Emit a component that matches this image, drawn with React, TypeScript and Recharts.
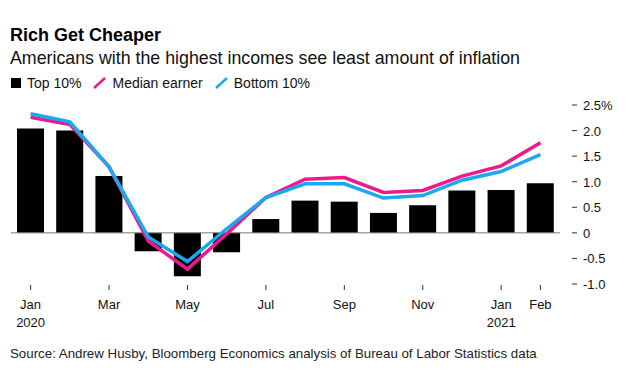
import { ComposedChart, Bar, Line, XAxis, YAxis, ReferenceLine } from 'recharts';

const months = [
  'Jan 2020', 'Feb 2020', 'Mar 2020', 'Apr 2020', 'May 2020', 'Jun 2020', 'Jul 2020',
  'Aug 2020', 'Sep 2020', 'Oct 2020', 'Nov 2020', 'Dec 2020', 'Jan 2021', 'Feb 2021',
];
const top10 = [2.04, 2.0, 1.11, -0.36, -0.85, -0.38, 0.27, 0.63, 0.61, 0.39, 0.54, 0.83, 0.84, 0.97];
const median = [2.26, 2.12, 1.29, -0.16, -0.71, -0.02, 0.69, 1.05, 1.08, 0.79, 0.83, 1.11, 1.31, 1.76];
const bottom10 = [2.33, 2.17, 1.29, -0.08, -0.56, 0.08, 0.69, 0.96, 0.96, 0.68, 0.73, 1.03, 1.2, 1.53];

const tickMonths = ['Jan', '', 'Mar', '', 'May', '', 'Jul', '', 'Sep', '', 'Nov', '', 'Jan', 'Feb'];
const tickYears = ['2020', '', '', '', '', '', '', '', '', '', '', '', '2021', ''];
const yTicks = [-1, -0.5, 0, 0.5, 1, 1.5, 2, 2.5];

const PINK = '#ec1a8a';
const BLUE = '#1aa9f0';
const FONT = '"Liberation Sans", Arial, Helvetica, sans-serif';

const data = months.map((m, i) => ({
  month: m,
  top: top10[i],
  median: median[i],
  bottom: bottom10[i],
}));

function MonthTick({ x, y, index }: any) {
  const label = tickMonths[index];
  if (!label) return <g />;
  return (
    <g>
      <line x1={x} x2={x} y1={y + 1} y2={y + 6} stroke="#333" strokeWidth={1} />
      <text x={x} y={y + 25} textAnchor="middle" fontSize={13} fill="#111" fontFamily={FONT}>
        {label}
      </text>
      {tickYears[index] && (
        <text x={x} y={y + 43} textAnchor="middle" fontSize={13} fill="#111" fontFamily={FONT}>
          {tickYears[index]}
        </text>
      )}
    </g>
  );
}

function ValueTick({ x, y, payload }: any) {
  const v = payload.value;
  let label = v === 0 ? '0' : v.toFixed(1);
  if (v === 2.5) label = '2.5%';
  return (
    <g>
      <line x1={x + 12} x2={x + 17} y1={y} y2={y} stroke="#333" strokeWidth={1} />
      <text x={x + 23} y={y + 5} fontSize={13} fill="#111" fontFamily={FONT}>
        {label}
      </text>
    </g>
  );
}

export default function App() {
  return (
    <div style={{ position: 'absolute', left: 0, top: 0, width: 637, height: 370, background: '#fff', fontFamily: FONT }}>
      <div style={{ position: 'absolute', left: 10, top: 25, fontSize: 18, fontWeight: 700, color: '#000' }}>
        Rich Get Cheaper
      </div>
      <div style={{ position: 'absolute', left: 10, top: 48, fontSize: 17.8, color: '#111' }}>
        Americans with the highest incomes see least amount of inflation
      </div>
      <div style={{ position: 'absolute', left: 11, top: 75, fontSize: 14, color: '#111', display: 'flex', alignItems: 'center' }}>
        <span style={{ display: 'inline-block', width: 10, height: 10, background: '#000', marginRight: 6 }} />
        <span style={{ marginRight: 12 }}>Top 10%</span>
        <svg width={13} height={12} style={{ marginRight: 6 }}>
          <line x1={1} y1={11} x2={12} y2={1} stroke={PINK} strokeWidth={2.5} />
        </svg>
        <span style={{ marginRight: 12 }}>Median earner</span>
        <svg width={13} height={12} style={{ marginRight: 6 }}>
          <line x1={1} y1={11} x2={12} y2={1} stroke={BLUE} strokeWidth={2.5} />
        </svg>
        <span>Bottom 10%</span>
      </div>
      <div style={{ position: 'absolute', top: 0, left: 0 }}>
        <ComposedChart width={637} height={370} data={data} margin={{ top: 105, right: 17, bottom: 36, left: 11 }}>
          <XAxis
            dataKey="month"
            axisLine={false}
            tickLine={false}
            tickSize={0}
            tickMargin={0}
            interval={0}
            height={50}
            tick={<MonthTick />}
          />
          <YAxis
            orientation="right"
            domain={[-1, 2.5]}
            ticks={yTicks}
            axisLine={false}
            tickLine={false}
            tickSize={0}
            tickMargin={0}
            width={60}
            tick={<ValueTick />}
          />
          <ReferenceLine y={0} stroke="#777" strokeWidth={1} />
          <Bar dataKey="top" fill="#000" barSize={27} isAnimationActive={false} />
          <Line dataKey="median" stroke={PINK} strokeWidth={3.5} dot={false} isAnimationActive={false} />
          <Line dataKey="bottom" stroke={BLUE} strokeWidth={3.5} dot={false} isAnimationActive={false} />
        </ComposedChart>
      </div>
      <div style={{ position: 'absolute', left: 10, top: 346, fontSize: 13.3, color: '#222' }}>
        Source: Andrew Husby, Bloomberg Economics analysis of Bureau of Labor Statistics data
      </div>
    </div>
  );
}
